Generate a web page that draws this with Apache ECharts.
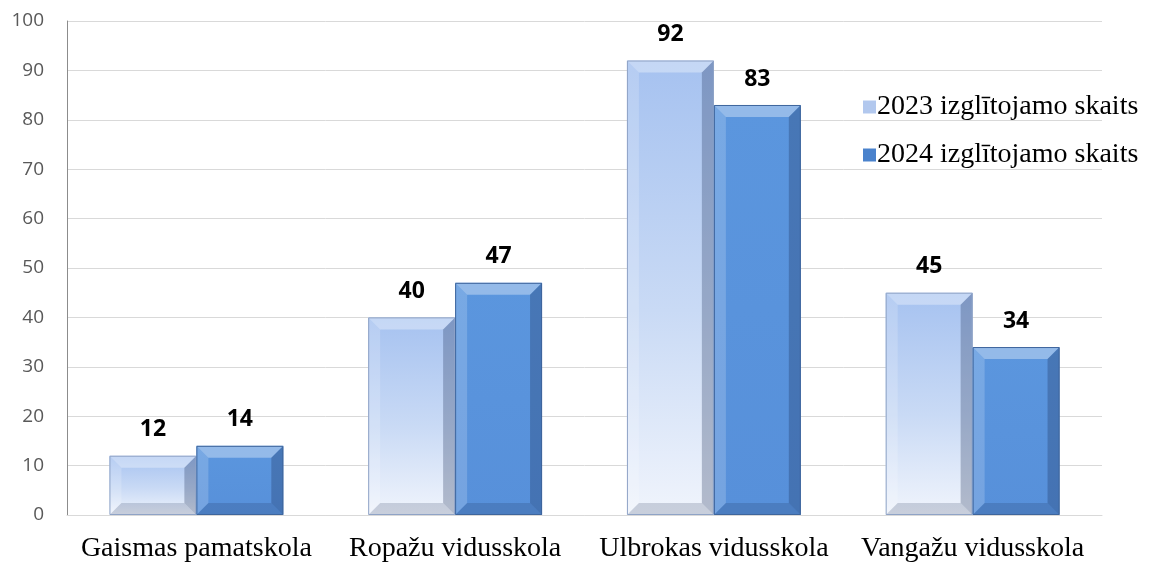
<!DOCTYPE html>
<html><head><meta charset="utf-8">
<script src="https://cdn.jsdelivr.net/npm/echarts@6/dist/echarts.min.js"></script>
<style>html,body{margin:0;padding:0;background:#fff}#c{width:1154px;height:563px}</style>
</head><body><div id="c"></div>
<script>
var categories = ['Gaismas pamatskola', 'Ropažu vidusskola', 'Ulbrokas vidusskola', 'Vangažu vidusskola'];
var seriesNames = ['2023 izglītojamo skaits', '2024 izglītojamo skaits'];
var values2023 = [12, 40, 92, 45];
var values2024 = [14, 47, 83, 34];
var yTicks = [0, 10, 20, 30, 40, 50, 60, 70, 80, 90, 100];

var faces = [
  {type:'linear',x:0,y:0,x2:0,y2:1,colorStops:[{offset:0,color:'#a6c2f0'},{offset:0.55,color:'#c9daf5'},{offset:1,color:'#f0f4fc'}]},
  {type:'linear',x:0,y:0,x2:0,y2:1,colorStops:[{offset:0,color:'#5b96de'},{offset:1,color:'#5790da'}]}
];
var borders = ['#8fa3c6', '#3e659c'];

function makeRender(idx){
  return function(params, api){
    var cat = api.value(0), val = api.value(1);
    var base = api.coord([cat, 0]);
    var top = api.coord([cat, val]);
    var band = api.size([1, 0])[0];
    var bw = band * 0.336;
    var x0 = base[0] + (idx === 0 ? -bw : 0);
    var x1 = x0 + bw;
    var y0 = top[1], y1 = base[1];
    var b = Math.min(12, (y1 - y0) / 2, bw / 2);
    var poly = function(pts, fill){ return {type:'polygon', shape:{points:pts}, style:{fill:fill}}; };
    return {type:'group', children:[
      {type:'rect', shape:{x:x0,y:y0,width:bw,height:y1-y0}, style:{fill:faces[idx]}},
      poly([[x0,y0],[x1,y0],[x1-b,y0+b],[x0+b,y0+b]], 'rgba(255,255,255,0.35)'),
      poly([[x0,y0],[x0+b,y0+b],[x0+b,y1-b],[x0,y1]], 'rgba(255,255,255,0.18)'),
      poly([[x1,y0],[x1,y1],[x1-b,y1-b],[x1-b,y0+b]], 'rgba(20,40,80,0.28)'),
      poly([[x0,y1],[x1,y1],[x1-b,y1-b],[x0+b,y1-b]], 'rgba(20,40,80,0.18)'),
      {type:'rect', shape:{x:x0+0.5,y:y0+0.5,width:bw-1,height:y1-y0-1}, style:{fill:null, stroke:borders[idx], lineWidth:1}},
      {type:'text', style:{text:String(val), x:(x0+x1)/2, y:y0-26, align:'center', verticalAlign:'middle',
        font:'bold 23px "Open Sans", sans-serif', fill:'#000'}}
    ]};
  };
}

var chart = echarts.init(document.getElementById('c'));
chart.setOption({
  animation:false,
  grid:{left:67, right:52, top:21, bottom:48},
  legend:{orient:'vertical', left:858, top:88, itemGap:20, itemWidth:13, itemHeight:13,
    icon:'rect', data:seriesNames,
    textStyle:{fontFamily:'"Liberation Serif", serif', fontSize:28, color:'#000', padding:[0,0,0,-4]}},
  xAxis:{type:'category', data:categories,
    axisLine:{lineStyle:{color:'#d9d9d9', width:1}}, axisTick:{show:false},
    axisLabel:{interval:0, hideOverlap:false, fontFamily:'"Liberation Serif", serif', fontSize:28, color:'#000', margin:20}},
  yAxis:{type:'value', min:yTicks[0], max:yTicks[yTicks.length-1], interval:yTicks[1]-yTicks[0],
    axisLine:{show:true, lineStyle:{color:'#8c8c8c'}}, axisTick:{show:false},
    axisLabel:{fontFamily:'"Open Sans", sans-serif', fontSize:19, color:'#595959', margin:23},
    splitLine:{lineStyle:{color:'#d9d9d9'}}},
  series:[
    {name:seriesNames[0], type:'custom', renderItem:makeRender(0), itemStyle:{color:'#b2c8ee'},
      data:values2023.map(function(v,i){return [i,v];})},
    {name:seriesNames[1], type:'custom', renderItem:makeRender(1), itemStyle:{color:'#4a82cc'},
      data:values2024.map(function(v,i){return [i,v];})}
  ]
});
</script></body></html>
